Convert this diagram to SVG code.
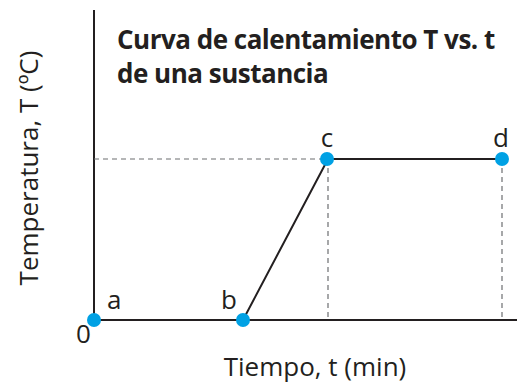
<svg xmlns="http://www.w3.org/2000/svg" width="520" height="384" viewBox="0 0 520 384">
<style>
.axis{stroke:#231f20;stroke-width:2;fill:none}
.line{stroke:#231f20;stroke-width:2;fill:none}
.dash{stroke:#6d6e71;stroke-width:1.2;stroke-dasharray:5,4;fill:none}
.pt{fill:#00a1e4}
.lbl{font-family:"Open Sans","Liberation Sans",sans-serif;font-size:26px;fill:#231f20}
.title{font-family:"Open Sans","Liberation Sans",sans-serif;font-size:26px;font-weight:bold;fill:#231f20;letter-spacing:-0.5px}
</style>
<rect width="520" height="384" fill="#fff"/>
<g id="connectors">
<line class="axis" x1="94" y1="10" x2="94" y2="320"/>
<line class="axis" x1="94" y1="320" x2="517" y2="320"/>
<line class="dash" x1="94" y1="159" x2="328" y2="159"/>
<line class="dash" x1="328" y1="159" x2="328" y2="320"/>
<line class="dash" x1="502" y1="159" x2="502" y2="320"/>
<polyline class="line" points="243,320 328,159 502,159"/>
</g>
<g id="node-a"><circle class="pt" cx="94" cy="320" r="7"/><text class="lbl" x="107" y="309">a</text></g>
<g id="node-b"><circle class="pt" cx="243" cy="320" r="7"/><text class="lbl" x="221" y="309">b</text></g>
<g id="node-c"><circle class="pt" cx="327" cy="159" r="7"/><text class="lbl" x="327" y="147" text-anchor="middle">c</text></g>
<g id="node-d"><circle class="pt" cx="502" cy="159" r="7"/><text class="lbl" x="501" y="147" text-anchor="middle">d</text></g>
<g id="labels">
<text class="lbl" x="76" y="343">0</text>
<text class="lbl" x="315" y="376" text-anchor="middle">Tiempo, t (min)</text>
<text class="lbl" transform="translate(38,168) rotate(-90)" text-anchor="middle">Temperatura, T (ºC)</text>
<text class="title" x="117" y="49">Curva de calentamiento T vs. t</text>
<text class="title" x="117" y="83">de una sustancia</text>
</g>
</svg>
